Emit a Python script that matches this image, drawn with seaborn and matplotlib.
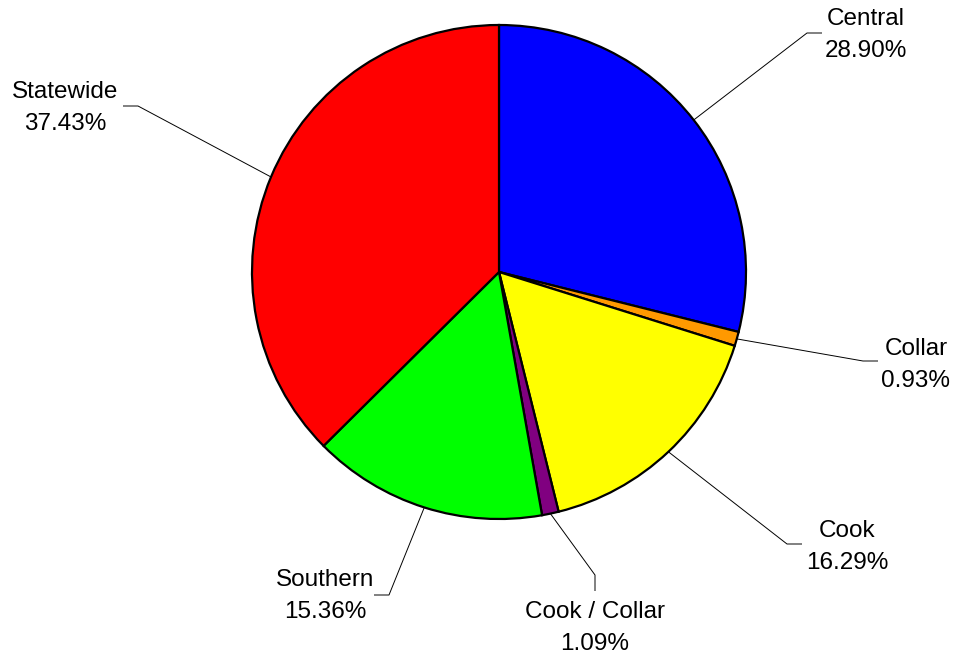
import numpy as np
import matplotlib
matplotlib.use("Agg")
import matplotlib.pyplot as plt
import seaborn as sns

# Share of total by region
regions = ["Central", "Collar", "Cook", "Cook / Collar", "Southern", "Statewide"]
shares = [28.90, 0.93, 16.29, 1.09, 15.36, 37.43]
colors = ["#0000FF", "#FF9900", "#FFFF00", "#800080", "#00FF00", "#FF0000"]

# Layout (pixel coordinates, origin at bottom-left)
W, H = 956, 656
center = (499, 656 - 272)
radius = 247
# elbow of each leader line, direction of the short tail, and label centre
elbows = [(807, 623), (863, 295), (787, 112), (595, 81), (389, 61), (138, 550)]
tails = [(15, 0), (15, 0), (15, 0), (0, -16), (-15, 0), (-15, 0)]
label_pos = [(866, 621), (916, 291), (847, 109), (595, 28), (325, 60), (65, 548)]

sns.set_theme(style="white")
plt.rcParams["font.family"] = ["Liberation Sans", "DejaVu Sans"]

fig = plt.figure(figsize=(W / 100, H / 100), dpi=100)
ax = fig.add_axes([0, 0, 1, 1])

wedges, _ = ax.pie(
    shares, colors=colors, startangle=90, counterclock=False,
    center=center, radius=radius,
    wedgeprops=dict(edgecolor="black", linewidth=1.6),
)
ax.set_xlim(0, W)
ax.set_ylim(0, H)
ax.set_aspect("equal")
ax.axis("off")

for w, name, val, elb, tl, lp in zip(wedges, regions, shares, elbows, tails, label_pos):
    mid = np.deg2rad((w.theta1 + w.theta2) / 2)
    edge = (center[0] + radius * np.cos(mid), center[1] + radius * np.sin(mid))
    end = (elb[0] + tl[0], elb[1] + tl[1])
    ax.plot([edge[0], elb[0], end[0]], [edge[1], elb[1], end[1]],
            color="black", linewidth=0.7, solid_capstyle="butt")
    ax.text(lp[0], lp[1], f"{name}\n{val:.2f}%", ha="center", va="center",
            fontsize=17.5, linespacing=1.62, color="black")

fig.savefig("out.png", dpi=100, facecolor="white")
